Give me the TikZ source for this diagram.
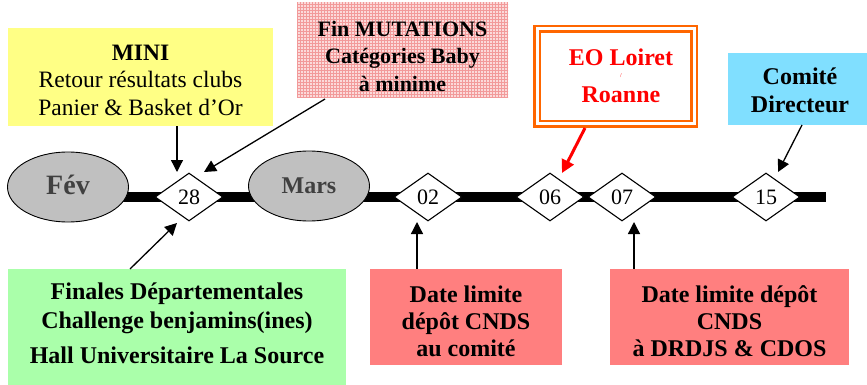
\documentclass[tikz,border=0pt]{standalone}
\usepackage{fontspec}
\setmainfont{Liberation Serif}
\usetikzlibrary{shapes.geometric,arrows.meta,patterns}
\definecolor{miniyellow}{HTML}{FFFF85}
\definecolor{pinkbase}{HTML}{FBDADA}
\definecolor{pinkgrid}{HTML}{F29A9A}
\definecolor{eoorange}{HTML}{FF6600}
\definecolor{comcyan}{HTML}{80DFFF}
\definecolor{fingreen}{HTML}{AAFFAA}
\definecolor{datered}{HTML}{FF7F7F}
\definecolor{ellgray}{HTML}{C0C0C0}
\definecolor{monthtext}{HTML}{404040}
\tikzset{
  x=1pt, y=-1pt,
  box/.style={rectangle, inner sep=0pt, draw=none},
  txt/.style={align=center, inner sep=0pt},
  month/.style={ellipse, draw=black, line width=0.9pt, fill=ellgray, inner sep=0pt,
    minimum width=121pt, minimum height=70pt},
  daybox/.style={diamond, draw=black, line width=1.1pt, fill=white, inner sep=0pt,
    minimum width=68pt, minimum height=48pt, font=\fontsize{22}{26}\selectfont},
  arr/.style={-{Triangle[length=12pt,width=12pt]}, line width=1.3pt, black},
  redarr/.style={-{Triangle[length=13pt,width=13pt]}, line width=3pt, red},
  bar/.style={line width=10pt, black}
}
\begin{document}
\begin{tikzpicture}
\useasboundingbox (0,0) rectangle (867,385);
% timeline bar
\coordinate (barstart) at (68,197);
\coordinate (barend) at (826,197);
\draw[bar] (barstart) -- (barend);
% months
\node[month] (fev) at (68,187) {};
\node[txt, font=\bfseries\fontsize{28}{30}\selectfont, text=monthtext] (fevt) at (68,185) {Fév};
\node[month] (mars) at (309,186) {};
\node[txt, font=\bfseries\fontsize{24}{28}\selectfont, text=monthtext] (marst) at (309,186) {Mars};
% days
\node[daybox] (d28) at (189,197) {28};
\node[daybox] (d02) at (428,197) {02};
\node[daybox] (d06) at (550,197) {06};
\node[daybox] (d07) at (622,197) {07};
\node[daybox] (d15) at (766,197) {15};
% MINI box
\node[box, fill=miniyellow, minimum width=265pt, minimum height=98pt] (mini) at (140.5,77) {};
\node[txt, font=\fontsize{23.5}{27.5}\selectfont] (minit) at (140.5,80)
  {\textbf{MINI}\\Retour résultats clubs\\Panier \& Basket d’Or};
% Fin mutations box
\node[box, fill=pinkbase, postaction={pattern=grid, pattern color=pinkgrid},
  minimum width=211pt, minimum height=95pt] (mut) at (402.5,50) {};
\node[txt, font=\bfseries\fontsize{22}{27.5}\selectfont] (mutt) at (402.5,56)
  {Fin MUTATIONS\\Catégories Baby\\à minime};
% EO box
\node[box, draw=eoorange, line width=2.5pt, double=white, double distance=3pt, fill=white,
  minimum width=157pt, minimum height=95pt] (eo) at (615.5,76.5) {};
\node[txt, font=\bfseries\fontsize{24}{27}\selectfont, text=red] (eot) at (621,75.5)
  {EO Loiret\\[10pt]Roanne};
\node[txt, font=\fontsize{6}{7}\selectfont, text=red] (eosl) at (621,76) {/};
% Comite box
\node[box, fill=comcyan, minimum width=139pt, minimum height=72pt] (com) at (797.5,89) {};
\node[txt, font=\bfseries\fontsize{24}{28}\selectfont] (comt) at (800,90.5)
  {Comité\\Directeur};
% Finales box
\node[box, fill=fingreen, minimum width=338pt, minimum height=116pt] (fin) at (177,327) {};
\node[txt, font=\bfseries\fontsize{24}{29}\selectfont] (fint) at (177,323.5)
  {Finales Départementales\\Challenge benjamins(ines)\\[6pt]Hall Universitaire La Source};
% Date limite boxes
\node[box, fill=datered, minimum width=192pt, minimum height=96pt] (dl1) at (466,317) {};
\node[txt, font=\bfseries\fontsize{24}{27}\selectfont] (dl1t) at (466,321)
  {Date limite\\dépôt CNDS\\au comité};
\node[box, fill=datered, minimum width=239pt, minimum height=96pt] (dl2) at (729.5,317) {};
\node[txt, font=\bfseries\fontsize{24}{27}\selectfont] (dl2t) at (729.5,321)
  {Date limite dépôt\\CNDS\\à DRDJS \& CDOS};
% arrow ends
\coordinate (t1) at (177,172);
\coordinate (t2) at (204,172);
\coordinate (s2) at (325,99);
\coordinate (t3) at (177,223);
\coordinate (s3) at (130,269);
\coordinate (t4) at (417,222);
\coordinate (t5) at (634,222);
\coordinate (t6) at (562,173);
\coordinate (s6) at (585,128);
\coordinate (t7) at (778,172);
\coordinate (s7) at (802,125);
% arrows
\draw[arr] (mini.south -| t1) -- (t1);
\draw[arr] (s2) -- (t2);
\draw[arr] (s3) -- (t3);
\draw[arr] (dl1.north -| t4) -- (t4);
\draw[arr] (dl2.north -| t5) -- (t5);
\draw[redarr] (s6) -- (t6);
\draw[arr] (s7) -- (t7);
\end{tikzpicture}
\end{document}
